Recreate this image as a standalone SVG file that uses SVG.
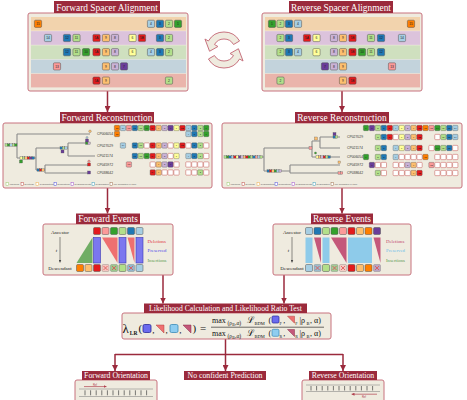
<svg xmlns="http://www.w3.org/2000/svg" width="467" height="400" viewBox="0 0 467 400">
<style>
.ttl{fill:#9b2a3c}
.tt{fill:#fff;font-family:"Liberation Serif",serif;text-anchor:middle}
.pnl{fill:#efebdf;stroke:#c8737f;stroke-width:1}
.conn{stroke:#9b2a3c;stroke-width:1.5;fill:none}
.k1,.k10{fill:#33a02c}.k2,.k11{fill:#b2df8a}.k3,.k12{fill:#1f78b4}.k4,.k14{fill:#a6cee3}
.k5{fill:#e31a1c}.k6{fill:#ffff99}.k7{fill:#6a3d9a}.k8{fill:#cab2d6}.k9{fill:#fdbf6f}.k13{fill:#fb9a99}.k15{fill:#ff7f00}
.sp rect{stroke:#505050;stroke-width:.5}
.sp text{font-family:"Liberation Sans",sans-serif;font-size:3.3px;text-anchor:middle;fill:#222}
.mx rect{stroke:#505050;stroke-width:.35}
.mx text{font-family:"Liberation Sans",sans-serif;font-size:2.3px;text-anchor:middle;fill:#222}
.mx rect.d{fill:#fff;stroke:#c0504d;stroke-width:.5}
.tree{stroke:#8a8a8a;stroke-width:1.1;fill:none}
.leaf{font-family:"Liberation Sans",sans-serif;font-size:3.4px;fill:#333}
.lg{font-family:"Liberation Sans",sans-serif;font-size:2.2px;fill:#555}
.lgi{fill:#fff;stroke-width:.5}
.ev{font-family:"Liberation Serif",serif;font-size:5px;fill:#222;text-anchor:middle}
.evl{font-family:"Liberation Serif",serif;font-size:4.8px}
.eb{stroke:#505050;stroke-width:.5}
.x{stroke:#e05050;stroke-width:.8}
.fm{font-family:"Liberation Serif",serif;fill:#111}
.tk{stroke:#444;stroke-width:.7}
.bl{stroke:#777;stroke-width:.5}
</style>
<defs>
<marker id="ah" markerUnits="userSpaceOnUse" markerWidth="6" markerHeight="6" refX="6" refY="3" orient="auto"><path d="M0,0 L6,3 L0,6 z" fill="#9b2a3c"/></marker>
<marker id="ahs" markerUnits="userSpaceOnUse" markerWidth="3" markerHeight="3" refX="3" refY="1.5" orient="auto"><path d="M0,0 L3,1.5 L0,3 z" fill="#444"/></marker>
<marker id="ahr" markerUnits="userSpaceOnUse" markerWidth="3" markerHeight="3" refX="3" refY="1.5" orient="auto"><path d="M0,0 L3,1.5 L0,3 z" fill="#b0404f"/></marker>
</defs>
<rect width="467" height="400" fill="#fff"/>

<g id="connectors">
<path class="conn" d="M107.5,91 V112" marker-end="url(#ah)"/>
<path class="conn" d="M342,91 V112" marker-end="url(#ah)"/>
<path class="conn" d="M107.5,188 V213.5" marker-end="url(#ah)"/>
<path class="conn" d="M342,188 V213.5" marker-end="url(#ah)"/>
<path class="conn" d="M163,275 V303.5" marker-end="url(#ah)"/>
<path class="conn" d="M284,275 V303.5" marker-end="url(#ah)"/>
<path class="conn" d="M225.5,339 V354.5"/>
<path class="conn" d="M115,354.5 H343"/>
<path class="conn" d="M115,354 V371" marker-end="url(#ah)"/>
<path class="conn" d="M225.5,354 V371" marker-end="url(#ah)"/>
<path class="conn" d="M343,354 V371" marker-end="url(#ah)"/>
</g>

<g id="cycle" fill="#efebdf" stroke="#c8737f" stroke-width="1">
<path d="M239.59,41 A18,18 0 0,0 208.41,41 L204.95,39 L209.56,51.26 L217.94,46.5 L214.47,44.5 A11,11 0 0,1 233.53,44.5 Z"/>
<path d="M208.41,59 A18,18 0 0,0 239.59,59 L243.05,61 L238.44,48.74 L230.06,53.5 L233.53,55.5 A11,11 0 0,1 214.47,55.5 Z"/>
</g>

<g id="forward-alignment">
<rect class="pnl" x="28" y="13" width="160" height="78" rx="2"/>
<rect x="31" y="17" width="155" height="13.6" fill="#f2d3ad"/>
<rect x="31" y="31.2" width="155" height="13.6" fill="#dcc3dc"/>
<rect x="31" y="45.4" width="155" height="13.6" fill="#cfe0bf"/>
<rect x="31" y="59.6" width="155" height="13.6" fill="#c3d3dc"/>
<rect x="31" y="73.8" width="155" height="13.6" fill="#eab4ab"/>
<rect class="ttl" x="54" y="1" width="106" height="12"/>
<text class="tt" x="107" y="10.6" font-size="9.4">Forward Spacer Alignment</text>
<g class="sp">
<rect class="k15" x="34.4" y="20.2" width="7.2" height="7.2" rx="1.2"/><text x="38" y="25">15</text>
<rect class="k4" x="147.4" y="20.2" width="7.2" height="7.2" rx="1.2"/><text x="151" y="25">4</text>
<rect class="k3" x="156.4" y="20.2" width="7.2" height="7.2" rx="1.2"/><text x="160" y="25">3</text>
<rect class="k2" x="165.4" y="20.2" width="7.2" height="7.2" rx="1.2"/><text x="169" y="25">2</text>
<rect class="k1" x="174.4" y="20.2" width="7.2" height="7.2" rx="1.2"/><text x="178" y="25">1</text>

<rect class="k14" x="44.4" y="34.4" width="7.2" height="7.2" rx="1.2"/><text x="48" y="39.2">14</text>
<rect class="k12" x="63.4" y="34.4" width="7.2" height="7.2" rx="1.2"/><text x="67" y="39.2">12</text>
<rect class="k11" x="72.9" y="34.4" width="7.2" height="7.2" rx="1.2"/><text x="76.5" y="39.2">11</text>
<rect class="k5" x="92.9" y="34.4" width="7.2" height="7.2" rx="1.2"/><text x="96.5" y="39.2">5A</text>
<rect class="k9" x="102.4" y="34.4" width="7.2" height="7.2" rx="1.2"/><text x="106" y="39.2">9</text>
<rect class="k8" x="111.4" y="34.4" width="7.2" height="7.2" rx="1.2"/><text x="115" y="39.2">8</text>
<rect class="k6" x="128.9" y="34.4" width="7.2" height="7.2" rx="1.2"/><text x="132.5" y="39.2">6</text>
<rect class="k5" x="138.4" y="34.4" width="7.2" height="7.2" rx="1.2"/><text x="142" y="39.2">5B</text>
<rect class="k3" x="156.4" y="34.4" width="7.2" height="7.2" rx="1.2"/><text x="160" y="39.2">3</text>
<rect class="k2" x="165.4" y="34.4" width="7.2" height="7.2" rx="1.2"/><text x="169" y="39.2">2</text>

<rect class="k12" x="63.4" y="48.6" width="7.2" height="7.2" rx="1.2"/><text x="67" y="53.4">12</text>
<rect class="k11" x="72.9" y="48.6" width="7.2" height="7.2" rx="1.2"/><text x="76.5" y="53.4">11</text>
<rect class="k10" x="82.4" y="48.6" width="7.2" height="7.2" rx="1.2"/><text x="86" y="53.4">10</text>
<rect class="k5" x="92.9" y="48.6" width="7.2" height="7.2" rx="1.2"/><text x="96.5" y="53.4">5A</text>
<rect class="k9" x="102.4" y="48.6" width="7.2" height="7.2" rx="1.2"/><text x="106" y="53.4">9</text>
<rect class="k8" x="111.4" y="48.6" width="7.2" height="7.2" rx="1.2"/><text x="115" y="53.4">8</text>
<rect class="k6" x="128.9" y="48.6" width="7.2" height="7.2" rx="1.2"/><text x="132.5" y="53.4">6</text>
<rect class="k4" x="147.4" y="48.6" width="7.2" height="7.2" rx="1.2"/><text x="151" y="53.4">4</text>
<rect class="k3" x="156.4" y="48.6" width="7.2" height="7.2" rx="1.2"/><text x="160" y="53.4">3</text>
<rect class="k2" x="165.4" y="48.6" width="7.2" height="7.2" rx="1.2"/><text x="169" y="53.4">2</text>

<rect class="k13" x="53.4" y="62.8" width="7.2" height="7.2" rx="1.2"/><text x="57" y="67.6">13</text>
<rect class="k9" x="102.4" y="62.8" width="7.2" height="7.2" rx="1.2"/><text x="106" y="67.6">9</text>
<rect class="k8" x="111.4" y="62.8" width="7.2" height="7.2" rx="1.2"/><text x="115" y="67.6">8</text>
<rect class="k7" x="120.4" y="62.8" width="7.2" height="7.2" rx="1.2"/><text x="124" y="67.6">7</text>

<rect class="k5" x="92.9" y="77" width="7.2" height="7.2" rx="1.2"/><text x="96.5" y="81.8">5A</text>
<rect class="k9" x="102.4" y="77" width="7.2" height="7.2" rx="1.2"/><text x="106" y="81.8">9</text>
<rect class="k2" x="165.4" y="77" width="7.2" height="7.2" rx="1.2"/><text x="169" y="81.8">2</text>
</g>
</g>

<g id="reverse-alignment">
<rect class="pnl" x="262" y="13" width="160" height="78" rx="2"/>
<rect x="265" y="17" width="155" height="13.6" fill="#f2d3ad"/>
<rect x="265" y="31.2" width="155" height="13.6" fill="#dcc3dc"/>
<rect x="265" y="45.4" width="155" height="13.6" fill="#cfe0bf"/>
<rect x="265" y="59.6" width="155" height="13.6" fill="#c3d3dc"/>
<rect x="265" y="73.8" width="155" height="13.6" fill="#eab4ab"/>
<rect class="ttl" x="289" y="1" width="104" height="12"/>
<text class="tt" x="341" y="10.6" font-size="9.4">Reverse Spacer Alignment</text>
<g class="sp">
<rect class="k1" x="268.4" y="20.2" width="7.2" height="7.2" rx="1.2"/><text x="272" y="25">1</text>
<rect class="k2" x="276.9" y="20.2" width="7.2" height="7.2" rx="1.2"/><text x="280.5" y="25">2</text>
<rect class="k3" x="285.4" y="20.2" width="7.2" height="7.2" rx="1.2"/><text x="289" y="25">3</text>
<rect class="k4" x="294.4" y="20.2" width="7.2" height="7.2" rx="1.2"/><text x="298" y="25">4</text>
<rect class="k15" x="407.4" y="20.2" width="7.2" height="7.2" rx="1.2"/><text x="411" y="25">15</text>

<rect class="k2" x="276.9" y="34.4" width="7.2" height="7.2" rx="1.2"/><text x="280.5" y="39.2">2</text>
<rect class="k3" x="285.4" y="34.4" width="7.2" height="7.2" rx="1.2"/><text x="289" y="39.2">3</text>
<rect class="k5" x="303.4" y="34.4" width="7.2" height="7.2" rx="1.2"/><text x="307" y="39.2">5A</text>
<rect class="k6" x="312.9" y="34.4" width="7.2" height="7.2" rx="1.2"/><text x="316.5" y="39.2">6</text>
<rect class="k8" x="330.4" y="34.4" width="7.2" height="7.2" rx="1.2"/><text x="334" y="39.2">8</text>
<rect class="k9" x="339.4" y="34.4" width="7.2" height="7.2" rx="1.2"/><text x="343" y="39.2">9</text>
<rect class="k5" x="348.9" y="34.4" width="7.2" height="7.2" rx="1.2"/><text x="352.5" y="39.2">5B</text>
<rect class="k11" x="367.4" y="34.4" width="7.2" height="7.2" rx="1.2"/><text x="371" y="39.2">11</text>
<rect class="k12" x="377.4" y="34.4" width="7.2" height="7.2" rx="1.2"/><text x="381" y="39.2">12</text>
<rect class="k14" x="398.4" y="34.4" width="7.2" height="7.2" rx="1.2"/><text x="402" y="39.2">14</text>

<rect class="k2" x="276.9" y="48.6" width="7.2" height="7.2" rx="1.2"/><text x="280.5" y="53.4">2</text>
<rect class="k3" x="285.4" y="48.6" width="7.2" height="7.2" rx="1.2"/><text x="289" y="53.4">3</text>
<rect class="k4" x="294.4" y="48.6" width="7.2" height="7.2" rx="1.2"/><text x="298" y="53.4">4</text>
<rect class="k6" x="312.9" y="48.6" width="7.2" height="7.2" rx="1.2"/><text x="316.5" y="53.4">6</text>
<rect class="k8" x="330.4" y="48.6" width="7.2" height="7.2" rx="1.2"/><text x="334" y="53.4">8</text>
<rect class="k9" x="339.4" y="48.6" width="7.2" height="7.2" rx="1.2"/><text x="343" y="53.4">9</text>
<rect class="k5" x="348.9" y="48.6" width="7.2" height="7.2" rx="1.2"/><text x="352.5" y="53.4">5B</text>
<rect class="k10" x="358.4" y="48.6" width="7.2" height="7.2" rx="1.2"/><text x="362" y="53.4">10</text>
<rect class="k11" x="367.4" y="48.6" width="7.2" height="7.2" rx="1.2"/><text x="371" y="53.4">11</text>
<rect class="k12" x="377.4" y="48.6" width="7.2" height="7.2" rx="1.2"/><text x="381" y="53.4">12</text>

<rect class="k7" x="321.4" y="62.8" width="7.2" height="7.2" rx="1.2"/><text x="325" y="67.6">7</text>
<rect class="k8" x="330.4" y="62.8" width="7.2" height="7.2" rx="1.2"/><text x="334" y="67.6">8</text>
<rect class="k9" x="339.4" y="62.8" width="7.2" height="7.2" rx="1.2"/><text x="343" y="67.6">9</text>
<rect class="k13" x="388.4" y="62.8" width="7.2" height="7.2" rx="1.2"/><text x="392" y="67.6">13</text>

<rect class="k2" x="276.9" y="77" width="7.2" height="7.2" rx="1.2"/><text x="280.5" y="81.8">2</text>
<rect class="k9" x="339.4" y="77" width="7.2" height="7.2" rx="1.2"/><text x="343" y="81.8">9</text>
<rect class="k5" x="348.9" y="77" width="7.2" height="7.2" rx="1.2"/><text x="352.5" y="81.8">5B</text>
</g>
</g>

<g id="forward-reconstruction">
<rect class="pnl" x="3" y="123" width="209" height="65" rx="2"/>
<rect class="ttl" x="60" y="112" width="94" height="11"/>
<text class="tt" x="107" y="120.8" font-size="9.4">Forward Reconstruction</text>
<path class="tree" d="M17,134V158M17,134H90M17,158H36M36,148V170M36,148H68M68,143V156M68,143H88M68,156H95M36,170H45M45,165V173M45,165H90M45,173H90"/>
<g stroke="#555" stroke-width=".3">
<rect class="k2" x="5" y="143.8" width="2.4" height="2.4"/><rect class="k10" x="7.4" y="143.8" width="2.4" height="2.4"/><rect class="k4" x="9.8" y="143.8" width="2.4" height="2.4"/><rect class="k2" x="12.2" y="143.8" width="2.4" height="2.4"/><rect class="k1" x="14.6" y="143.8" width="2.4" height="2.4"/>
<rect class="k6" x="20" y="156.8" width="2.4" height="2.4"/><rect class="k11" x="22.4" y="156.8" width="2.4" height="2.4"/><rect class="k9" x="24.8" y="156.8" width="2.4" height="2.4"/><rect class="k5" x="27.2" y="156.8" width="2.4" height="2.4"/><rect class="k7" x="29.6" y="156.8" width="2.4" height="2.4"/><rect class="k3" x="32" y="156.8" width="2.4" height="2.4"/>
<rect class="k10" x="19.5" y="160" width="3" height="3"/>
<rect class="k3" x="60" y="146.8" width="2.4" height="2.4"/><rect class="k2" x="62.4" y="146.8" width="2.4" height="2.4"/><rect class="k4" x="64.8" y="146.8" width="2.4" height="2.4"/>
<rect class="k7" x="61" y="150" width="3" height="3"/>
<circle class="k9" cx="90" cy="131.3" r="1.3"/>
<circle class="k14" cx="87" cy="137.5" r="1"/>
<rect class="k7" x="85.5" y="139" width="3" height="3"/><rect class="k10" x="85.5" y="142" width="2.4" height="2.4"/><rect class="k8" x="87.9" y="142" width="2.4" height="2.4"/>
<rect class="k3" x="37" y="168.8" width="2.4" height="2.4"/><rect class="k5" x="39.4" y="168.8" width="2.4" height="2.4"/><rect class="k9" x="41.8" y="168.8" width="2.4" height="2.4"/>
<circle class="k13" cx="89" cy="161.3" r="1.2"/>
<rect class="k5" x="87.5" y="163" width="3" height="3"/>
<rect class="k7" x="87.5" y="171" width="3" height="3"/>
</g>
<text class="leaf" x="97" y="135.2">CP006054</text>
<text class="leaf" x="97" y="146.7">CP027029</text>
<text class="leaf" x="97" y="157.2">CP021174</text>
<text class="leaf" x="97" y="165.7">CP045972</text>
<text class="leaf" x="97" y="173.7">CP038642</text>
<g class="mx">
<rect class="k15" x="114.35" y="125.35" width="5.3" height="5.3" rx=".8"/><text x="117" y="128.9">15</text>
<rect class="k14" x="120.3" y="125.35" width="5.3" height="5.3" rx=".8"/><text x="122.95" y="128.9">14</text>
<rect class="k13" x="126.25" y="125.35" width="5.3" height="5.3" rx=".8"/><text x="128.9" y="128.9">13</text>
<rect class="k12" x="132.2" y="125.35" width="5.3" height="5.3" rx=".8"/><text x="134.85" y="128.9">12</text>
<rect class="k11" x="138.15" y="125.35" width="5.3" height="5.3" rx=".8"/><text x="140.8" y="128.9">11</text>
<rect class="k10" x="144.1" y="125.35" width="5.3" height="5.3" rx=".8"/><text x="146.75" y="128.9">10</text>
<rect class="k5" x="150.05" y="125.35" width="5.3" height="5.3" rx=".8"/><text x="152.7" y="128.9">5A</text>
<rect class="k9" x="156" y="125.35" width="5.3" height="5.3" rx=".8"/><text x="158.65" y="128.9">9</text>
<rect class="k8" x="161.95" y="125.35" width="5.3" height="5.3" rx=".8"/><text x="164.6" y="128.9">8</text>
<rect class="k7" x="167.9" y="125.35" width="5.3" height="5.3" rx=".8"/><text x="170.55" y="128.9">7</text>
<rect class="k6" x="173.85" y="125.35" width="5.3" height="5.3" rx=".8"/><text x="176.5" y="128.9">6</text>
<rect class="k5" x="179.8" y="125.35" width="5.3" height="5.3" rx=".8"/><text x="182.45" y="128.9">5B</text>
<rect class="k4" x="185.75" y="125.35" width="5.3" height="5.3" rx=".8"/><text x="188.4" y="128.9">4</text>
<rect class="k3" x="191.7" y="125.35" width="5.3" height="5.3" rx=".8"/><text x="194.35" y="128.9">3</text>
<rect class="k2" x="197.65" y="125.35" width="5.3" height="5.3" rx=".8"/><text x="200.3" y="128.9">2</text>
<rect class="k1" x="203.6" y="125.35" width="5.3" height="5.3" rx=".8"/><text x="206.25" y="128.9">1</text>

<rect class="k15" x="114.35" y="131.35" width="5.3" height="5.3" rx=".8"/><text x="117" y="134.9">15</text>
<rect class="k4" x="185.75" y="131.35" width="5.3" height="5.3" rx=".8"/><text x="188.4" y="134.9">4</text>
<rect class="k3" x="191.7" y="131.35" width="5.3" height="5.3" rx=".8"/><text x="194.35" y="134.9">3</text>
<rect class="k2" x="197.65" y="131.35" width="5.3" height="5.3" rx=".8"/><text x="200.3" y="134.9">2</text>
<rect class="k1" x="203.6" y="131.35" width="5.3" height="5.3" rx=".8"/><text x="206.25" y="134.9">1</text>

<rect class="k14" x="120.3" y="142.85" width="5.3" height="5.3" rx=".8"/><text x="122.95" y="146.4">14</text>
<rect class="k12" x="132.2" y="142.85" width="5.3" height="5.3" rx=".8"/><text x="134.85" y="146.4">12</text>
<rect class="k11" x="138.15" y="142.85" width="5.3" height="5.3" rx=".8"/><text x="140.8" y="146.4">11</text>
<rect class="d" x="144.1" y="142.85" width="5.3" height="5.3" rx=".8"/>
<rect class="k5" x="150.05" y="142.85" width="5.3" height="5.3" rx=".8"/><text x="152.7" y="146.4">5A</text>
<rect class="k9" x="156" y="142.85" width="5.3" height="5.3" rx=".8"/><text x="158.65" y="146.4">9</text>
<rect class="k8" x="161.95" y="142.85" width="5.3" height="5.3" rx=".8"/><text x="164.6" y="146.4">8</text>
<rect class="d" x="167.9" y="142.85" width="5.3" height="5.3" rx=".8"/>
<rect class="k6" x="173.85" y="142.85" width="5.3" height="5.3" rx=".8"/><text x="176.5" y="146.4">6</text>
<rect class="k5" x="179.8" y="142.85" width="5.3" height="5.3" rx=".8"/><text x="182.45" y="146.4">5B</text>
<rect class="d" x="185.75" y="142.85" width="5.3" height="5.3" rx=".8"/>
<rect class="k3" x="191.7" y="142.85" width="5.3" height="5.3" rx=".8"/><text x="194.35" y="146.4">3</text>
<rect class="k2" x="197.65" y="142.85" width="5.3" height="5.3" rx=".8"/><text x="200.3" y="146.4">2</text>
<rect class="d" x="203.6" y="142.85" width="5.3" height="5.3" rx=".8"/>

<rect class="k12" x="132.2" y="153.35" width="5.3" height="5.3" rx=".8"/><text x="134.85" y="156.9">12</text>
<rect class="k11" x="138.15" y="153.35" width="5.3" height="5.3" rx=".8"/><text x="140.8" y="156.9">11</text>
<rect class="k10" x="144.1" y="153.35" width="5.3" height="5.3" rx=".8"/><text x="146.75" y="156.9">10</text>
<rect class="k5" x="150.05" y="153.35" width="5.3" height="5.3" rx=".8"/><text x="152.7" y="156.9">5A</text>
<rect class="k9" x="156" y="153.35" width="5.3" height="5.3" rx=".8"/><text x="158.65" y="156.9">9</text>
<rect class="k8" x="161.95" y="153.35" width="5.3" height="5.3" rx=".8"/><text x="164.6" y="156.9">8</text>
<rect class="d" x="167.9" y="153.35" width="5.3" height="5.3" rx=".8"/>
<rect class="k6" x="173.85" y="153.35" width="5.3" height="5.3" rx=".8"/><text x="176.5" y="156.9">6</text>
<rect class="k4" x="185.75" y="153.35" width="5.3" height="5.3" rx=".8"/><text x="188.4" y="156.9">4</text>
<rect class="k3" x="191.7" y="153.35" width="5.3" height="5.3" rx=".8"/><text x="194.35" y="156.9">3</text>
<rect class="k2" x="197.65" y="153.35" width="5.3" height="5.3" rx=".8"/><text x="200.3" y="156.9">2</text>
<rect class="d" x="203.6" y="153.35" width="5.3" height="5.3" rx=".8"/>

<rect class="k13" x="126.25" y="161.85" width="5.3" height="5.3" rx=".8"/><text x="128.9" y="165.4">13</text>
<rect class="d" x="150.05" y="161.85" width="5.3" height="5.3" rx=".8"/>
<rect class="k9" x="156" y="161.85" width="5.3" height="5.3" rx=".8"/><text x="158.65" y="165.4">9</text>
<rect class="k8" x="161.95" y="161.85" width="5.3" height="5.3" rx=".8"/><text x="164.6" y="165.4">8</text>
<rect class="k7" x="167.9" y="161.85" width="5.3" height="5.3" rx=".8"/><text x="170.55" y="165.4">7</text>
<rect class="d" x="173.85" y="161.85" width="5.3" height="5.3" rx=".8"/>
<rect class="d" x="185.75" y="161.85" width="5.3" height="5.3" rx=".8"/>
<rect class="d" x="191.7" y="161.85" width="5.3" height="5.3" rx=".8"/>
<rect class="d" x="197.65" y="161.85" width="5.3" height="5.3" rx=".8"/>
<rect class="d" x="203.6" y="161.85" width="5.3" height="5.3" rx=".8"/>

<rect class="k5" x="150.05" y="169.85" width="5.3" height="5.3" rx=".8"/><text x="152.7" y="173.4">5A</text>
<rect class="k9" x="156" y="169.85" width="5.3" height="5.3" rx=".8"/><text x="158.65" y="173.4">9</text>
<rect class="d" x="161.95" y="169.85" width="5.3" height="5.3" rx=".8"/>
<rect class="d" x="167.9" y="169.85" width="5.3" height="5.3" rx=".8"/>
<rect class="d" x="173.85" y="169.85" width="5.3" height="5.3" rx=".8"/>
<rect class="d" x="185.75" y="169.85" width="5.3" height="5.3" rx=".8"/>
<rect class="d" x="191.7" y="169.85" width="5.3" height="5.3" rx=".8"/>
<rect class="k2" x="197.65" y="169.85" width="5.3" height="5.3" rx=".8"/><text x="200.3" y="173.4">2</text>
<rect class="d" x="203.6" y="169.85" width="5.3" height="5.3" rx=".8"/>
</g>
<g>
<rect class="lgi" x="6" y="182.7" width="2.6" height="2.6" stroke="#9ccc70"/><text class="lg" x="9.6" y="185">Insertions</text>
<rect class="lgi" x="21" y="182.7" width="2.6" height="2.6" stroke="#c0504d"/><text class="lg" x="24.6" y="185">Deletions</text>
<rect class="lgi" x="36" y="182.7" width="2.6" height="2.6" stroke="#f0b050"/><text class="lg" x="39.6" y="185">Contradictions</text>
<rect class="lgi" x="54" y="182.7" width="2.6" height="2.6" stroke="#5050e0"/><text class="lg" x="57.6" y="185">Duplications</text>
<rect class="lgi" x="71" y="182.7" width="2.6" height="2.6" stroke="#a050d0"/><text class="lg" x="74.6" y="185">Rearrangements</text>
<rect class="lgi" x="92" y="182.7" width="2.6" height="2.6" stroke="#40a0c0"/><text class="lg" x="95.6" y="185">Reacquisition</text>
<rect class="lgi" x="110" y="182.7" width="2.6" height="2.6" stroke="#a07050"/><text class="lg" x="113.6" y="185">Ind. acquisition or other</text>
</g>
</g>

<g id="reverse-reconstruction">
<rect class="pnl" x="222" y="123" width="240" height="65" rx="2"/>
<rect class="ttl" x="295" y="112" width="94" height="11"/>
<text class="tt" x="342" y="120.8" font-size="9.4">Reverse Reconstruction</text>
<path class="tree" d="M262,157H264M264,148V171M264,148H312M312,141V157M312,141H320M320,137V148M320,137H340M320,148H340M312,157H340M264,171H290M290,165V173M290,165H340M290,173H340"/>
<g stroke="#555" stroke-width=".3">
<rect class="k2" x="224" y="155.8" width="2.4" height="2.4"/><rect class="k10" x="226.4" y="155.8" width="2.4" height="2.4"/><rect class="k3" x="228.8" y="155.8" width="2.4" height="2.4"/><rect class="k4" x="231.2" y="155.8" width="2.4" height="2.4"/><rect class="k5" x="233.6" y="155.8" width="2.4" height="2.4"/><rect class="k6" x="236" y="155.8" width="2.4" height="2.4"/><rect class="k7" x="238.4" y="155.8" width="2.4" height="2.4"/><rect class="k8" x="240.8" y="155.8" width="2.4" height="2.4"/><rect class="k9" x="243.2" y="155.8" width="2.4" height="2.4"/><rect class="k5" x="245.6" y="155.8" width="2.4" height="2.4"/><rect class="k10" x="248" y="155.8" width="2.4" height="2.4"/><rect class="k11" x="250.4" y="155.8" width="2.4" height="2.4"/><rect class="k12" x="252.8" y="155.8" width="2.4" height="2.4"/><rect class="k13" x="255.2" y="155.8" width="2.4" height="2.4"/><rect class="k14" x="257.6" y="155.8" width="2.4" height="2.4"/><rect class="k2" x="260" y="155.8" width="2.4" height="2.4"/>
<rect class="k3" x="267" y="169.8" width="2.4" height="2.4"/><rect class="k5" x="269.4" y="169.8" width="2.4" height="2.4"/><rect class="k9" x="271.8" y="169.8" width="2.4" height="2.4"/><rect class="k10" x="274.2" y="169.8" width="2.4" height="2.4"/><rect class="k4" x="276.6" y="169.8" width="2.4" height="2.4"/><rect class="k8" x="279" y="169.8" width="2.4" height="2.4"/>
<rect class="k9" x="314.5" y="137" width="3" height="3"/>
<rect class="k13" x="309" y="146.5" width="3" height="3"/>
<circle class="k10" cx="315.5" cy="153" r="1.1"/>
<rect class="k6" x="316" y="155.8" width="2.4" height="2.4"/><rect class="k9" x="318.4" y="155.8" width="2.4" height="2.4"/><rect class="k8" x="320.8" y="155.8" width="2.4" height="2.4"/><rect class="k5" x="323.2" y="155.8" width="2.4" height="2.4"/><rect class="k11" x="325.6" y="155.8" width="2.4" height="2.4"/><rect class="k3" x="328" y="155.8" width="2.4" height="2.4"/>
<rect class="k7" x="333" y="132.5" width="3" height="3"/>
<rect class="k3" x="333" y="135.8" width="2.4" height="2.4"/><rect class="k11" x="335.4" y="135.8" width="2.4" height="2.4"/>
<rect class="k9" x="338" y="161" width="2.4" height="2.4"/>
<rect class="k13" x="338" y="171.8" width="2.4" height="2.4"/><rect class="k13" x="340.4" y="171.8" width="2.4" height="2.4"/>
</g>
<text class="leaf" x="347" y="138.2">CP027029</text>
<text class="leaf" x="347" y="149.2">CP021174</text>
<text class="leaf" x="347" y="158.2">CP006054</text>
<text class="leaf" x="347" y="166.2">CP045972</text>
<text class="leaf" x="347" y="174.2">CP038642</text>
<g class="mx">
<rect class="k1" x="363.35" y="125.35" width="5.3" height="5.3" rx=".8"/><text x="366" y="128.9">1</text>
<rect class="k7" x="369.3" y="125.35" width="5.3" height="5.3" rx=".8"/><text x="371.95" y="128.9">7</text>
<rect class="k2" x="375.25" y="125.35" width="5.3" height="5.3" rx=".8"/><text x="377.9" y="128.9">2</text>
<rect class="k3" x="381.2" y="125.35" width="5.3" height="5.3" rx=".8"/><text x="383.85" y="128.9">3</text>
<rect class="k5" x="387.15" y="125.35" width="5.3" height="5.3" rx=".8"/><text x="389.8" y="128.9">5A</text>
<rect class="k4" x="393.1" y="125.35" width="5.3" height="5.3" rx=".8"/><text x="395.75" y="128.9">4</text>
<rect class="k6" x="399.05" y="125.35" width="5.3" height="5.3" rx=".8"/><text x="401.7" y="128.9">6</text>
<rect class="k8" x="405" y="125.35" width="5.3" height="5.3" rx=".8"/><text x="407.65" y="128.9">8</text>
<rect class="k9" x="410.95" y="125.35" width="5.3" height="5.3" rx=".8"/><text x="413.6" y="128.9">9</text>
<rect class="k5" x="416.9" y="125.35" width="5.3" height="5.3" rx=".8"/><text x="419.55" y="128.9">5B</text>
<rect class="k15" x="422.85" y="125.35" width="5.3" height="5.3" rx=".8"/><text x="425.5" y="128.9">15</text>
<rect class="k13" x="428.8" y="125.35" width="5.3" height="5.3" rx=".8"/><text x="431.45" y="128.9">13</text>
<rect class="k10" x="434.75" y="125.35" width="5.3" height="5.3" rx=".8"/><text x="437.4" y="128.9">10</text>
<rect class="k11" x="440.7" y="125.35" width="5.3" height="5.3" rx=".8"/><text x="443.35" y="128.9">11</text>
<rect class="k12" x="446.65" y="125.35" width="5.3" height="5.3" rx=".8"/><text x="449.3" y="128.9">12</text>
<rect class="k14" x="452.6" y="125.35" width="5.3" height="5.3" rx=".8"/><text x="455.25" y="128.9">14</text>

<rect class="k2" x="375.25" y="134.35" width="5.3" height="5.3" rx=".8"/><text x="377.9" y="137.9">2</text>
<rect class="k3" x="381.2" y="134.35" width="5.3" height="5.3" rx=".8"/><text x="383.85" y="137.9">3</text>
<rect class="k5" x="387.15" y="134.35" width="5.3" height="5.3" rx=".8"/><text x="389.8" y="137.9">5A</text>
<rect class="d" x="393.1" y="134.35" width="5.3" height="5.3" rx=".8"/>
<rect class="k6" x="399.05" y="134.35" width="5.3" height="5.3" rx=".8"/><text x="401.7" y="137.9">6</text>
<rect class="k8" x="405" y="134.35" width="5.3" height="5.3" rx=".8"/><text x="407.65" y="137.9">8</text>
<rect class="k9" x="410.95" y="134.35" width="5.3" height="5.3" rx=".8"/><text x="413.6" y="137.9">9</text>
<rect class="k5" x="416.9" y="134.35" width="5.3" height="5.3" rx=".8"/><text x="419.55" y="137.9">5B</text>
<rect class="d" x="434.75" y="134.35" width="5.3" height="5.3" rx=".8"/>
<rect class="k11" x="440.7" y="134.35" width="5.3" height="5.3" rx=".8"/><text x="443.35" y="137.9">11</text>
<rect class="k12" x="446.65" y="134.35" width="5.3" height="5.3" rx=".8"/><text x="449.3" y="137.9">12</text>
<rect class="k14" x="452.6" y="134.35" width="5.3" height="5.3" rx=".8"/><text x="455.25" y="137.9">14</text>

<rect class="k2" x="375.25" y="145.35" width="5.3" height="5.3" rx=".8"/><text x="377.9" y="148.9">2</text>
<rect class="k3" x="381.2" y="145.35" width="5.3" height="5.3" rx=".8"/><text x="383.85" y="148.9">3</text>
<rect class="k4" x="393.1" y="145.35" width="5.3" height="5.3" rx=".8"/><text x="395.75" y="148.9">4</text>
<rect class="k6" x="399.05" y="145.35" width="5.3" height="5.3" rx=".8"/><text x="401.7" y="148.9">6</text>
<rect class="k8" x="405" y="145.35" width="5.3" height="5.3" rx=".8"/><text x="407.65" y="148.9">8</text>
<rect class="k9" x="410.95" y="145.35" width="5.3" height="5.3" rx=".8"/><text x="413.6" y="148.9">9</text>
<rect class="k5" x="416.9" y="145.35" width="5.3" height="5.3" rx=".8"/><text x="419.55" y="148.9">5B</text>
<rect class="d" x="428.8" y="145.35" width="5.3" height="5.3" rx=".8"/>
<rect class="k10" x="434.75" y="145.35" width="5.3" height="5.3" rx=".8"/><text x="437.4" y="148.9">10</text>
<rect class="k11" x="440.7" y="145.35" width="5.3" height="5.3" rx=".8"/><text x="443.35" y="148.9">11</text>
<rect class="k12" x="446.65" y="145.35" width="5.3" height="5.3" rx=".8"/><text x="449.3" y="148.9">12</text>
<rect class="d" x="452.6" y="145.35" width="5.3" height="5.3" rx=".8"/>

<rect class="k1" x="363.35" y="154.35" width="5.3" height="5.3" rx=".8"/><text x="366" y="157.9">1</text>
<rect class="k2" x="375.25" y="154.35" width="5.3" height="5.3" rx=".8"/><text x="377.9" y="157.9">2</text>
<rect class="k3" x="381.2" y="154.35" width="5.3" height="5.3" rx=".8"/><text x="383.85" y="157.9">3</text>
<rect class="k4" x="393.1" y="154.35" width="5.3" height="5.3" rx=".8"/><text x="395.75" y="157.9">4</text>
<rect class="d" x="399.05" y="154.35" width="5.3" height="5.3" rx=".8"/>
<rect class="d" x="405" y="154.35" width="5.3" height="5.3" rx=".8"/>
<rect class="d" x="410.95" y="154.35" width="5.3" height="5.3" rx=".8"/>
<rect class="d" x="416.9" y="154.35" width="5.3" height="5.3" rx=".8"/>
<rect class="k15" x="422.85" y="154.35" width="5.3" height="5.3" rx=".8"/><text x="425.5" y="157.9">15</text>
<rect class="d" x="434.75" y="154.35" width="5.3" height="5.3" rx=".8"/>
<rect class="d" x="440.7" y="154.35" width="5.3" height="5.3" rx=".8"/>
<rect class="d" x="446.65" y="154.35" width="5.3" height="5.3" rx=".8"/>
<rect class="d" x="452.6" y="154.35" width="5.3" height="5.3" rx=".8"/>

<rect class="k7" x="369.3" y="162.35" width="5.3" height="5.3" rx=".8"/><text x="371.95" y="165.9">7</text>
<rect class="d" x="375.25" y="162.35" width="5.3" height="5.3" rx=".8"/>
<rect class="d" x="381.2" y="162.35" width="5.3" height="5.3" rx=".8"/>
<rect class="d" x="393.1" y="162.35" width="5.3" height="5.3" rx=".8"/>
<rect class="d" x="399.05" y="162.35" width="5.3" height="5.3" rx=".8"/>
<rect class="k8" x="405" y="162.35" width="5.3" height="5.3" rx=".8"/><text x="407.65" y="165.9">8</text>
<rect class="k9" x="410.95" y="162.35" width="5.3" height="5.3" rx=".8"/><text x="413.6" y="165.9">9</text>
<rect class="d" x="416.9" y="162.35" width="5.3" height="5.3" rx=".8"/>
<rect class="k13" x="428.8" y="162.35" width="5.3" height="5.3" rx=".8"/><text x="431.45" y="165.9">13</text>
<rect class="d" x="434.75" y="162.35" width="5.3" height="5.3" rx=".8"/>
<rect class="d" x="440.7" y="162.35" width="5.3" height="5.3" rx=".8"/>
<rect class="d" x="446.65" y="162.35" width="5.3" height="5.3" rx=".8"/>
<rect class="d" x="452.6" y="162.35" width="5.3" height="5.3" rx=".8"/>

<rect class="k2" x="375.25" y="170.35" width="5.3" height="5.3" rx=".8"/><text x="377.9" y="173.9">2</text>
<rect class="d" x="381.2" y="170.35" width="5.3" height="5.3" rx=".8"/>
<rect class="d" x="393.1" y="170.35" width="5.3" height="5.3" rx=".8"/>
<rect class="d" x="399.05" y="170.35" width="5.3" height="5.3" rx=".8"/>
<rect class="d" x="405" y="170.35" width="5.3" height="5.3" rx=".8"/>
<rect class="k9" x="410.95" y="170.35" width="5.3" height="5.3" rx=".8"/><text x="413.6" y="173.9">9</text>
<rect class="k5" x="416.9" y="170.35" width="5.3" height="5.3" rx=".8"/><text x="419.55" y="173.9">5B</text>
<rect class="d" x="434.75" y="170.35" width="5.3" height="5.3" rx=".8"/>
<rect class="d" x="440.7" y="170.35" width="5.3" height="5.3" rx=".8"/>
<rect class="d" x="446.65" y="170.35" width="5.3" height="5.3" rx=".8"/>
<rect class="d" x="452.6" y="170.35" width="5.3" height="5.3" rx=".8"/>
</g>
<g>
<rect class="lgi" x="227" y="182.7" width="2.6" height="2.6" stroke="#9ccc70"/><text class="lg" x="230.6" y="185">Insertions</text>
<rect class="lgi" x="242" y="182.7" width="2.6" height="2.6" stroke="#c0504d"/><text class="lg" x="245.6" y="185">Deletions</text>
<rect class="lgi" x="257" y="182.7" width="2.6" height="2.6" stroke="#f0b050"/><text class="lg" x="260.6" y="185">Contradictions</text>
<rect class="lgi" x="275" y="182.7" width="2.6" height="2.6" stroke="#5050e0"/><text class="lg" x="278.6" y="185">Duplications</text>
<rect class="lgi" x="292" y="182.7" width="2.6" height="2.6" stroke="#a050d0"/><text class="lg" x="295.6" y="185">Rearrangements</text>
<rect class="lgi" x="313" y="182.7" width="2.6" height="2.6" stroke="#40a0c0"/><text class="lg" x="316.6" y="185">Reacquisition</text>
<rect class="lgi" x="331" y="182.7" width="2.6" height="2.6" stroke="#a07050"/><text class="lg" x="334.6" y="185">Ind. acquisition or other</text>
</g>
</g>

<g id="forward-events">
<rect class="pnl" x="43" y="224" width="130" height="51" rx="2"/>
<rect class="ttl" x="76" y="213.5" width="64" height="10.5"/>
<text class="tt" x="108" y="221.8" font-size="9.4">Forward Events</text>
<text class="ev" x="60" y="233.5">Ancestor</text>
<path d="M60,237 V262.5" stroke="#444" stroke-width=".6" marker-end="url(#ahs)"/>
<text class="ev" x="56.5" y="251.5" font-style="italic">t</text>
<text class="ev" x="60" y="269.8">Descendant</text>
<polygon points="76.5,263 92.5,263 92.5,237.5" fill="#70ad64"/>
<rect x="93.5" y="237.5" width="7" height="25.5" fill="#7b77ef" stroke="#3b38b5" stroke-width=".6"/>
<polygon points="102,237.5 117.5,237.5 117.5,263" fill="#ee7070"/>
<rect x="119" y="237.5" width="7" height="25.5" fill="#7b77ef" stroke="#3b38b5" stroke-width=".6"/>
<polygon points="127.5,237.5 134.5,237.5 134.5,263" fill="#ee7070"/>
<rect x="136" y="237.5" width="7" height="25.5" fill="#7b77ef" stroke="#3b38b5" stroke-width=".6"/>
<g class="eb">
<rect class="k5" x="93.5" y="227.5" width="7" height="7" rx="1.2"/>
<rect class="k13" x="102" y="227.5" width="7" height="7" rx="1.2"/>
<rect class="k10" x="110.5" y="227.5" width="7" height="7" rx="1.2"/>
<rect class="k11" x="119" y="227.5" width="7" height="7" rx="1.2"/>
<rect class="k12" x="127.5" y="227.5" width="7" height="7" rx="1.2"/>
<rect class="k14" x="136" y="227.5" width="7" height="7" rx="1.2"/>
<rect class="k15" x="76.5" y="264.5" width="7" height="7" rx="1.2"/>
<rect class="k9" x="85" y="264.5" width="7" height="7" rx="1.2"/>
<rect class="k5" x="93.5" y="264.5" width="7" height="7" rx="1.2"/>
<rect class="k13" x="102" y="264.5" width="7" height="7" rx="1.2" fill-opacity=".45" stroke-opacity=".5"/>
<rect class="k10" x="110.5" y="264.5" width="7" height="7" rx="1.2" fill-opacity=".45" stroke-opacity=".5"/>
<rect class="k11" x="119" y="264.5" width="7" height="7" rx="1.2"/>
<rect class="k12" x="127.5" y="264.5" width="7" height="7" rx="1.2" fill-opacity=".45" stroke-opacity=".5"/>
<rect class="k14" x="136" y="264.5" width="7" height="7" rx="1.2"/>
</g>
<path class="x" d="M103.5,266L107.5,270M107.5,266L103.5,270M112,266L116,270M116,266L112,270M129,266L133,270M133,266L129,270"/>
<text class="evl" x="147.5" y="242.5" fill="#e0303c">Deletions</text>
<text class="evl" x="147.5" y="252" fill="#4a46e8">Preserved</text>
<text class="evl" x="147.5" y="261.5" fill="#5a9a50">Insertions</text>
</g>

<g id="reverse-events">
<rect class="pnl" x="273" y="224" width="138" height="51" rx="2"/>
<rect class="ttl" x="311" y="213.5" width="62" height="10.5"/>
<text class="tt" x="342" y="221.8" font-size="9.4">Reverse Events</text>
<text class="ev" x="292" y="233.5">Ancestor</text>
<path d="M292,237 V262.5" stroke="#444" stroke-width=".6" marker-end="url(#ahs)"/>
<text class="ev" x="288.5" y="251.5" font-style="italic">t</text>
<text class="ev" x="292" y="269.8">Descendant</text>
<rect x="305.5" y="237.5" width="7" height="25.5" fill="#8ecbea"/>
<polygon points="314,237.5 321,237.5 321,263" fill="#c4587a"/>
<rect x="322.5" y="237.5" width="7" height="25.5" fill="#8ecbea"/>
<polygon points="331,237.5 346.5,237.5 346.5,263" fill="#c4587a"/>
<rect x="348" y="237.5" width="24" height="25.5" fill="#8ecbea"/>
<polygon points="373.5,237.5 380.5,237.5 380.5,263" fill="#c4587a"/>
<g class="eb">
<rect class="k14" x="305.5" y="227.5" width="7" height="7" rx="1.2"/>
<rect class="k12" x="314" y="227.5" width="7" height="7" rx="1.2"/>
<rect class="k11" x="322.5" y="227.5" width="7" height="7" rx="1.2"/>
<rect class="k10" x="331" y="227.5" width="7" height="7" rx="1.2"/>
<rect class="k13" x="339.5" y="227.5" width="7" height="7" rx="1.2"/>
<rect class="k5" x="348" y="227.5" width="7" height="7" rx="1.2"/>
<rect class="k9" x="356.5" y="227.5" width="7" height="7" rx="1.2"/>
<rect class="k15" x="365" y="227.5" width="7" height="7" rx="1.2"/>
<rect class="k7" x="373.5" y="227.5" width="7" height="7" rx="1.2"/>
<rect class="k14" x="305.5" y="264.5" width="7" height="7" rx="1.2"/>
<rect class="k12" x="314" y="264.5" width="7" height="7" rx="1.2" fill-opacity=".4" stroke-opacity=".5"/>
<rect class="k11" x="322.5" y="264.5" width="7" height="7" rx="1.2"/>
<rect class="k10" x="331" y="264.5" width="7" height="7" rx="1.2" fill-opacity=".4" stroke-opacity=".5"/>
<rect class="k13" x="339.5" y="264.5" width="7" height="7" rx="1.2" fill-opacity=".4" stroke-opacity=".5"/>
<rect class="k5" x="348" y="264.5" width="7" height="7" rx="1.2"/>
<rect class="k9" x="356.5" y="264.5" width="7" height="7" rx="1.2"/>
<rect class="k15" x="365" y="264.5" width="7" height="7" rx="1.2"/>
<rect class="k7" x="373.5" y="264.5" width="7" height="7" rx="1.2" fill-opacity=".4" stroke-opacity=".5"/>
</g>
<path class="x" d="M315.5,266L319.5,270M319.5,266L315.5,270M332.5,266L336.5,270M336.5,266L332.5,270M341,266L345,270M345,266L341,270M375,266L379,270M379,266L375,270"/>
<text class="evl" x="386" y="242.5" fill="#c2466e">Deletions</text>
<text class="evl" x="386" y="252" fill="#6ec0ea">Preserved</text>
<text class="evl" x="386" y="261.5" fill="#5a9a50">Insertions</text>
</g>

<g id="likelihood">
<rect class="pnl" x="122" y="313" width="209" height="26" rx="2"/>
<rect class="ttl" x="144" y="303.5" width="163" height="9.5"/>
<text class="tt" x="225.5" y="310.8" font-size="7.7">Likelihood Calculation and Likelihood Ratio Test</text>
<text class="fm" x="122.5" y="332.5" font-size="13">λ</text>
<text class="fm" x="129.8" y="334.5" font-size="5.5" font-weight="bold">LR</text>
<text class="fm" x="138.5" y="332" font-size="11">(</text>
<rect x="143" y="324.5" width="8" height="8" rx="1.5" fill="#6b6bef" stroke="#2a2a9a" stroke-width=".8"/>
<text class="fm" x="152.3" y="333" font-size="9">,</text>
<polygon points="156,325 164,325 164,333" fill="#f07070" stroke="#b04040" stroke-width=".5"/>
<text class="fm" x="165.5" y="333" font-size="9">,</text>
<rect x="170" y="324.5" width="8" height="8" rx="1.5" fill="#8ecdf0" stroke="#3a8ab8" stroke-width=".8"/>
<text class="fm" x="179.3" y="333" font-size="9">,</text>
<polygon points="183,325 191,325 191,333" fill="#c4587a" stroke="#8a2a4a" stroke-width=".5"/>
<text class="fm" x="192.5" y="332" font-size="11">)</text>
<text class="fm" x="200" y="332" font-size="11">=</text>
<text class="fm" x="212" y="322.5" font-size="8">max</text>
<text class="fm" x="227.5" y="324.5" font-size="5.5">(ρ</text><text class="fm" x="232.3" y="325.5" font-size="3.8">B</text><text class="fm" x="235" y="324.5" font-size="5.5">,α)</text>
<text class="fm" x="247" y="322.5" font-size="9" font-family="DejaVu Serif">ℒ</text>
<text class="fm" x="254.5" y="324.5" font-size="4.5">BDM</text>
<text class="fm" x="268.5" y="322.5" font-size="8">(</text>
<rect x="272" y="316" width="7" height="7" rx="1.2" fill="#6b6bef" stroke="#2a2a9a" stroke-width=".7"/>
<text class="fm" x="279.6" y="324.5" font-size="4">F</text>
<text class="fm" x="283.2" y="322.5" font-size="8">,</text>
<polygon points="287.5,316.2 294.5,316.2 294.5,323.2" fill="#f07070" stroke="#b04040" stroke-width=".5"/>
<text class="fm" x="295.3" y="324.5" font-size="4">F</text>
<text class="fm" x="299.5" y="322.5" font-size="8">|ρ</text>
<text class="fm" x="306.6" y="324.5" font-size="4.5">B</text>
<text class="fm" x="310" y="322.5" font-size="8">, α)</text>
<path d="M211,327.2 H324" stroke="#111" stroke-width=".6"/>
<text class="fm" x="212" y="335.8" font-size="8">max</text>
<text class="fm" x="227.5" y="337.8" font-size="5.5">(ρ</text><text class="fm" x="232.3" y="338.8" font-size="3.8">B</text><text class="fm" x="235" y="337.8" font-size="5.5">,α)</text>
<text class="fm" x="247" y="335.8" font-size="9" font-family="DejaVu Serif">ℒ</text>
<text class="fm" x="254.5" y="337.8" font-size="4.5">BDM</text>
<text class="fm" x="268.5" y="335.8" font-size="8">(</text>
<rect x="272" y="329.3" width="7" height="7" rx="1.2" fill="#8ecdf0" stroke="#3a8ab8" stroke-width=".7"/>
<text class="fm" x="279.6" y="337.8" font-size="4">R</text>
<text class="fm" x="283.2" y="335.8" font-size="8">,</text>
<polygon points="287.5,329.5 294.5,329.5 294.5,336.5" fill="#c4587a" stroke="#8a2a4a" stroke-width=".5"/>
<text class="fm" x="295.3" y="337.8" font-size="4">R</text>
<text class="fm" x="299.5" y="335.8" font-size="8">|ρ</text>
<text class="fm" x="306.6" y="337.8" font-size="4.5">B</text>
<text class="fm" x="310" y="335.8" font-size="8">, α)</text>
</g>

<g id="forward-orientation">
<rect class="pnl" x="75" y="380" width="82" height="26" rx="2"/>
<rect class="ttl" x="82" y="371" width="68" height="9"/>
<text class="tt" x="116" y="378.2" font-size="7.8">Forward Orientation</text>
<path d="M84,386.6 H106.5" stroke="#b0404f" stroke-width=".7" marker-end="url(#ahr)"/>
<text x="95" y="385.6" font-family="Liberation Sans,sans-serif" font-size="2.6" fill="#b0404f" text-anchor="middle">Ref</text>
<path class="bl" d="M79,389 H153 M79,396.5 H153"/>
<path class="tk" d="M85,390.3V395.3M90.6,390.3V395.3M96.2,390.3V395.3M101.8,390.3V395.3M107.4,390.3V395.3M113,390.3V395.3M118.6,390.3V395.3M124.2,390.3V395.3M129.8,390.3V395.3M135.4,390.3V395.3M141,390.3V395.3M146.6,390.3V395.3"/>
</g>

<g id="no-prediction">
<rect class="ttl" x="184" y="371" width="82" height="9"/>
<text class="tt" x="225" y="378.2" font-size="7.8">No confident Prediction</text>
</g>

<g id="reverse-orientation">
<rect class="pnl" x="302" y="380" width="82" height="26" rx="2"/>
<rect class="ttl" x="309" y="371" width="68" height="9"/>
<text class="tt" x="343" y="378.2" font-size="7.8">Reverse Orientation</text>
<path class="bl" d="M306,385 H380 M306,391.5 H380"/>
<path class="tk" d="M311,386V390.5M316.6,386V390.5M322.2,386V390.5M327.8,386V390.5M333.4,386V390.5M339,386V390.5M344.6,386V390.5M350.2,386V390.5M355.8,386V390.5M361.4,386V390.5M367,386V390.5M372.6,386V390.5"/>
<path d="M377,394.2 H351.5" stroke="#b0404f" stroke-width=".7" marker-end="url(#ahr)"/>
<text x="364" y="398.4" font-family="Liberation Sans,sans-serif" font-size="2.6" fill="#b0404f" text-anchor="middle">Ref</text>
</g>
</svg>
